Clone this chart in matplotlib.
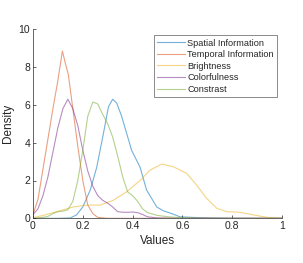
import numpy as np
import matplotlib
matplotlib.use("Agg")
import matplotlib.pyplot as plt

plt.rcParams["font.family"] = ["Liberation Sans", "DejaVu Sans"]

# Density curves (x, density)
spatial_x = [0, 0.1, 0.15, 0.175, 0.2, 0.23, 0.256, 0.283, 0.303, 0.32, 0.336, 0.356, 0.376, 0.396, 0.43, 0.456, 0.497, 0.523, 0.557, 0.59, 0.67, 0.8, 1.0]
spatial_y = [0, 0, 0.02, 0.18, 0.6, 1.5, 2.7, 4.5, 5.9, 6.3, 6.1, 5.4, 4.5, 3.6, 2.7, 1.5, 0.6, 0.4, 0.25, 0.08, 0.03, 0, 0]

temporal_x = [0, 0.02, 0.04, 0.06, 0.08, 0.1, 0.118, 0.13, 0.142, 0.16, 0.18, 0.2, 0.22, 0.24, 0.26, 0.3, 1.0]
temporal_y = [0.2, 1.0, 2.6, 4.2, 5.8, 7.3, 8.85, 8.2, 7.6, 5.8, 3.8, 2.0, 0.7, 0.25, 0.05, 0, 0]

bright_x = [0, 0.04, 0.108, 0.162, 0.216, 0.27, 0.322, 0.376, 0.43, 0.47, 0.517, 0.563, 0.617, 0.657, 0.697, 0.738, 0.778, 0.83, 0.885, 0.94, 1.0]
bright_y = [0.03, 0.15, 0.4, 0.6, 0.7, 0.7, 0.95, 1.4, 2.0, 2.55, 2.87, 2.73, 2.38, 1.76, 1.06, 0.53, 0.35, 0.32, 0.18, 0.05, 0]

color_x = [0, 0.02, 0.04, 0.06, 0.08, 0.1, 0.12, 0.14, 0.16, 0.18, 0.2, 0.22, 0.24, 0.26, 0.28, 0.3, 0.32, 0.34, 0.36, 0.38, 0.4, 0.42, 0.44, 0.46, 0.5, 0.6, 1.0]
color_y = [0.2, 0.5, 1.2, 2.2, 3.5, 4.8, 5.8, 6.3, 5.8, 4.9, 3.6, 2.5, 1.7, 1.2, 0.95, 0.8, 0.6, 0.35, 0.32, 0.32, 0.33, 0.3, 0.2, 0.08, 0.02, 0, 0]

contrast_x = [0, 0.04, 0.06, 0.08, 0.1, 0.12, 0.14, 0.16, 0.18, 0.2, 0.22, 0.24, 0.26, 0.28, 0.3, 0.32, 0.34, 0.36, 0.38, 0.4, 0.42, 0.44, 0.46, 0.5, 0.55, 0.6, 0.7, 1.0]
contrast_y = [0, 0.05, 0.1, 0.25, 0.35, 0.38, 0.45, 0.9, 2.0, 3.6, 5.4, 6.15, 6.05, 5.5, 5.0, 4.3, 3.3, 2.2, 1.4, 1.2, 0.9, 0.5, 0.3, 0.15, 0.07, 0.03, 0, 0]

labels = ["Spatial Information", "Temporal Information", "Brightness", "Colorfulness", "Constrast"]
colors = ["#0072bd", "#d95319", "#edb120", "#7e2f8e", "#77ac30"]

fig = plt.figure(figsize=(3.03, 2.63), dpi=100)
ax = fig.add_axes([33 / 303, 1 - 218.3 / 263, 249 / 303, 189 / 263])

series = [(spatial_x, spatial_y), (temporal_x, temporal_y), (bright_x, bright_y),
          (color_x, color_y), (contrast_x, contrast_y)]
for (xs, ys), lab, c in zip(series, labels, colors):
    ax.plot(xs, ys, color=c, lw=0.8, alpha=0.55, label=lab)

ax.set_xlim(0, 1)
ax.set_ylim(0, 10)
ax.set_xticks([0, 0.2, 0.4, 0.6, 0.8, 1])
ax.set_xticklabels(["0", "0.2", "0.4", "0.6", "0.8", "1"])
ax.set_yticks([0, 2, 4, 6, 8, 10])
ax.tick_params(direction="in", length=2.5, width=0.5, labelsize=7.5, colors="#262626", pad=2)
for s in ["top", "right"]:
    ax.spines[s].set_visible(False)
for s in ["left", "bottom"]:
    ax.spines[s].set_linewidth(0.5)
    ax.spines[s].set_color("#262626")

ax.set_xlabel("Values", fontsize=8.5, color="#262626", labelpad=3)
ax.set_ylabel("Density", fontsize=8.5, color="#262626", labelpad=3)

leg = ax.legend(loc="upper left", bbox_to_anchor=(121 / 249, 1 - 6 / 189), fontsize=6.6,
                frameon=True, fancybox=False, handlelength=3.0, handletextpad=0.3,
                labelspacing=0.28, borderpad=0.35, borderaxespad=0)
leg.get_frame().set_edgecolor("#555555")
leg.get_frame().set_linewidth(0.6)
for t in leg.get_texts():
    t.set_color("#262626")

fig.savefig("out.png", dpi=100)
